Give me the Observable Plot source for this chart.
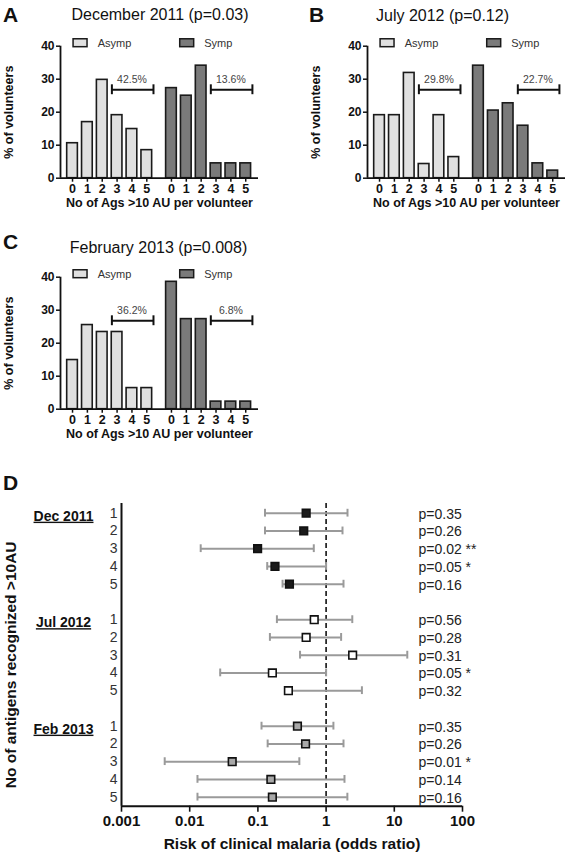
<!DOCTYPE html>
<html><head><meta charset="utf-8">
<script src="https://cdn.jsdelivr.net/npm/d3@7"></script>
<script src="https://cdn.jsdelivr.net/npm/@observablehq/plot@0.6"></script>
<style>
body{margin:0;background:#fff;font-family:"Liberation Sans",Arial,sans-serif;}
#root{position:relative;width:567px;height:859px;overflow:hidden;background:#fff;}
.abs{position:absolute;white-space:nowrap;line-height:1;color:#111;}
.letter{font-size:21px;font-weight:bold;}
.title{font-size:16px;transform:translateX(-50%);}
.panel{position:absolute;}
</style></head><body><div id="root"></div>
<script>
// ---------- data: panels A-C ----------
const countLabels = ["0","1","2","3","4","5"];
const groupNames = ["Asymp","Symp"];
const panelTitles = ["December 2011 (p=0.03)","July 2012 (p=0.12)","February 2013 (p=0.008)"];
const panelLetters = ["A","B","C","D"];
const asympDec2011 = [10.6,17.0,29.8,19.1,14.9,8.5];
const sympDec2011  = [27.3,25.0,34.1,4.5,4.5,4.5];
const asympJul2012 = [19.1,19.1,31.9,4.3,19.1,6.4];
const sympJul2012  = [34.1,20.5,22.7,15.9,4.5,2.3];
const asympFeb2013 = [14.9,25.5,23.4,23.4,6.4,6.4];
const sympFeb2013  = [38.6,27.3,27.3,2.3,2.3,2.3];
const pctDec2011 = ["42.5%","13.6%"];
const pctJul2012 = ["29.8%","22.7%"];
const pctFeb2013 = ["36.2%","6.8%"];
const yTicksBar = [0,10,20,30,40];
const yTitleBar = "% of volunteers";
const xTitleBar = "No of Ags >10 AU per volunteer";

// ---------- data: panel D ----------
const surveys = ["Dec 2011","Jul 2012","Feb 2013"];
const antigenCount = ["1","2","3","4","5"];
const orDec2011 = [0.51,0.47,0.099,0.178,0.29];
const loDec2011 = [0.127,0.127,0.0145,0.137,0.23];
const hiDec2011 = [2.06,1.74,0.66,1.0,1.8];
const pDec2011  = ["p=0.35","p=0.26","p=0.02 **","p=0.05 *","p=0.16"];
const orJul2012 = [0.67,0.51,2.45,0.163,0.28];
const loJul2012 = [0.19,0.15,0.415,0.028,0.27];
const hiJul2012 = [2.42,1.66,15.5,1.0,3.35];
const pJul2012  = ["p=0.56","p=0.28","p=0.31","p=0.05 *","p=0.32"];
const orFeb2013 = [0.38,0.50,0.042,0.155,0.163];
const loFeb2013 = [0.113,0.139,0.0043,0.013,0.013];
const hiFeb2013 = [1.28,1.8,0.405,1.86,2.05];
const pFeb2013  = ["p=0.35","p=0.26","p=0.01 *","p=0.14","p=0.16"];
const xTicksOR = [0.001,0.01,0.1,1,10,100];
const xTickLabelsOR = ["0.001","0.01","0.1","1","10","100"];
const xTitleOR = "Risk of clinical malaria (odds ratio)";
const yTitleOR = "No of antigens recognized >10AU";

const FONT = "'Liberation Sans', Arial, sans-serif";
const root = document.getElementById("root");

function addText(txt, cls, left, top) {
  const d = document.createElement("div");
  d.className = "abs " + cls;
  d.textContent = txt;
  d.style.left = left + "px";
  d.style.top = top + "px";
  root.appendChild(d);
}
function place(el, left, top) {
  el.classList.add("panel");
  el.style.left = left + "px";
  el.style.top = top + "px";
  root.appendChild(el);
}

// layout of the bar panels
const groupOffset = [0, 6.66];
const xDom = [-0.81, 12.52];
const barHalf = 0.36;
const bracketY = 26.8;
const legendX = [0.07, 7.25];

function barPanel(asymp, symp, pct, width, marginRight) {
  const series = [asymp, symp];
  const bars = series.flatMap((vals, g) => vals.map((v, k) => ({group: groupNames[g], x: groupOffset[g] + k, value: v})));
  const ticks = bars.map(d => d.x);
  const brackets = groupNames.map((g, i) => ({x1: groupOffset[i] + 2.65, x2: groupOffset[i] + 5.45, xm: groupOffset[i] + 4, label: pct[i]}));
  const caps = brackets.flatMap(b => [b.x1, b.x2]);
  const legend = groupNames.map((g, i) => ({group: g, x1: legendX[i], x2: legendX[i] + 0.94, xt: legendX[i] + 1.62}));
  return Plot.plot({
    width, height: 220, marginLeft: 60, marginRight, marginTop: 45.7, marginBottom: 42.3,
    x: {domain: xDom, axis: null}, y: {domain: [0, 40], axis: null},
    color: {domain: groupNames, range: ["#e0e0e0", "#7a7a7a"]},
    style: {fontFamily: FONT, fontSize: "12px", color: "#111", background: "transparent"},
    marks: [
      Plot.rectY(bars, {x1: d => d.x - barHalf, x2: d => d.x + barHalf, y1: 0, y2: "value", fill: "group", stroke: "#1a1a1a", strokeWidth: 1.6}),
      Plot.ruleY([0], {stroke: "#111", strokeWidth: 1.8}),
      Plot.ruleX([xDom[0]], {y1: 0, y2: 40, stroke: "#111", strokeWidth: 1.8}),
      Plot.axisY({ticks: yTicksBar, tickSize: 4, tickPadding: 2, label: null, fontWeight: "bold", fontSize: 12, strokeWidth: 1.5}),
      Plot.axisX({ticks, tickFormat: d => countLabels[Math.round(d - (d > 5.5 ? groupOffset[1] : 0))], tickSize: 4, tickPadding: 2, label: null, fontWeight: "bold", fontSize: 12.5, strokeWidth: 1.5}),
      Plot.ruleY(brackets, {x1: "x1", x2: "x2", y: bracketY, stroke: "#111", strokeWidth: 2}),
      Plot.ruleX(caps, {x: d => d, y1: bracketY - 1.5, y2: bracketY + 1.5, stroke: "#111", strokeWidth: 2}),
      Plot.text(brackets, {x: "xm", y: 29.9, text: "label", fontSize: 10.5, fill: "#444"}),
      Plot.rect(legend, {x1: "x1", x2: "x2", y1: 39.7, y2: 42.1, fill: "group", stroke: "#1a1a1a", strokeWidth: 1.5}),
      Plot.text(legend, {x: "xt", y: 40.9, text: "group", textAnchor: "start", fontSize: 11, fill: "#333"}),
      Plot.text([yTitleBar], {frameAnchor: "left", textAnchor: "middle", dx: -52, rotate: -90, fontWeight: "bold", fontSize: 12.5, fill: "#111"}),
      Plot.text([xTitleBar], {frameAnchor: "bottom", dy: 28.5, fontWeight: "bold", fontSize: 12.5, fill: "#111"})
    ]
  });
}

place(barPanel(asympDec2011, sympDec2011, pctDec2011, 280, 22), 0, 0);
place(barPanel(asympJul2012, sympJul2012, pctJul2012, 260, 2), 307, 0);
place(barPanel(asympFeb2013, sympFeb2013, pctFeb2013, 280, 22), 0, 231.3);

// ---------- panel D ----------
const orAll = [orDec2011, orJul2012, orFeb2013];
const loAll = [loDec2011, loJul2012, loFeb2013];
const hiAll = [hiDec2011, hiJul2012, hiFeb2013];
const pAll = [pDec2011, pJul2012, pFeb2013];
const rows = surveys.flatMap((s, si) => antigenCount.map((c, k) => ({
  survey: s, count: c, row: si * 6 + k, or: orAll[si][k], lo: loAll[si][k], hi: hiAll[si][k], p: pAll[si][k]
})));
const groupRows = surveys.map((s, si) => ({survey: s, row: si * 6}));
const yDomD = [-0.546, 16.51];
const capH = 0.22;

const plotD = Plot.plot({
  width: 567, height: 399, marginLeft: 121, marginRight: 105, marginTop: 43, marginBottom: 53.3,
  x: {type: "log", domain: [0.001, 100], axis: null},
  y: {domain: yDomD, reverse: true, axis: null},
  color: {domain: surveys, range: ["#1a1a1a", "#ffffff", "#a8a8a8"]},
  style: {fontFamily: FONT, fontSize: "14px", color: "#111", background: "transparent"},
  marks: [
    Plot.ruleX([1], {stroke: "#111", strokeWidth: 1.6, strokeDasharray: "5,3"}),
    Plot.ruleY(rows, {x1: "lo", x2: "hi", y: "row", stroke: "#9a9a9a", strokeWidth: 2}),
    Plot.ruleX(rows, {x: "lo", y1: d => d.row - capH, y2: d => d.row + capH, stroke: "#9a9a9a", strokeWidth: 2}),
    Plot.ruleX(rows, {x: "hi", y1: d => d.row - capH, y2: d => d.row + capH, stroke: "#9a9a9a", strokeWidth: 2}),
    Plot.dot(rows, {x: "or", y: "row", symbol: "square", r: 4.3, fill: "survey", stroke: "#111", strokeWidth: 1.6}),
    Plot.ruleX([0.001], {stroke: "#111", strokeWidth: 2}),
    Plot.ruleY([yDomD[1]], {stroke: "#111", strokeWidth: 2}),
    Plot.axisX({ticks: xTicksOR, tickFormat: d => xTickLabelsOR[xTicksOR.indexOf(d)], tickSize: 6, tickPadding: 3, label: null, fontWeight: "bold", fontSize: 15, strokeWidth: 1.6}),
    Plot.text(rows, {y: "row", text: "count", frameAnchor: "left", dx: -4, textAnchor: "end", fontSize: 14, fill: "#333"}),
    Plot.text(groupRows, {y: "row", text: "survey", frameAnchor: "left", textAnchor: "middle", dx: -58, dy: 3, fontWeight: "bold", fontSize: 14, fill: "#111"}),
    Plot.text(rows, {y: "row", text: "p", frameAnchor: "right", dx: -44, dy: 1, textAnchor: "start", fontSize: 14, fill: "#222"}),
    Plot.text([xTitleOR], {frameAnchor: "bottom", dy: 42.3, fontWeight: "bold", fontSize: 15.5, fill: "#111"}),
    Plot.text([yTitleOR], {frameAnchor: "left", textAnchor: "middle", dx: -110, dy: 10, rotate: -90, fontWeight: "bold", fontSize: 15.5, fill: "#111"})
  ]
});
d3.select(plotD).selectAll("text").filter(function() { return surveys.includes(this.textContent); })
  .attr("text-decoration", "underline");
place(plotD, 0, 460);

// ---------- panel letters and titles ----------
addText(panelLetters[0], "letter", 3, 3.5);
addText(panelLetters[1], "letter", 309, 3.5);
addText(panelLetters[2], "letter", 3, 231);
addText(panelLetters[3], "letter", 3, 471.5);
addText(panelTitles[0], "title", 160, 7.2);
addText(panelTitles[1], "title", 442.5, 7.5);
addText(panelTitles[2], "title", 158.5, 239.8);
</script></body></html>
